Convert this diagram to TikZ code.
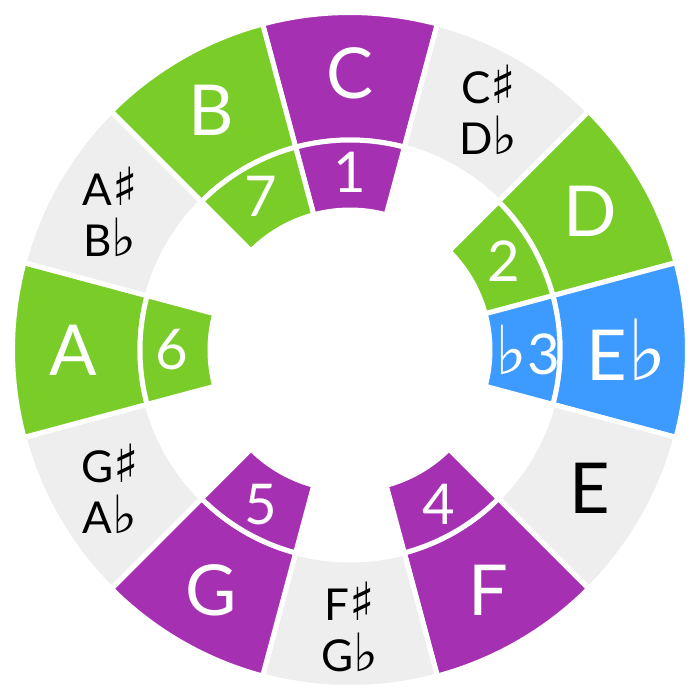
\documentclass[tikz,border=0pt]{standalone}
\usepackage{fontspec}
\setmainfont{Lato}
\newfontfamily\musfont{DejaVu Sans}
\usetikzlibrary{positioning}
\definecolor{purp}{RGB}{166,48,178}
\definecolor{grn}{RGB}{122,205,41}
\definecolor{blu}{RGB}{61,155,255}
\definecolor{pale}{RGB}{238,238,238}
\newcommand{\shp}{\scalebox{1.2}{\musfont ♯}}
\newcommand{\flt}{\scalebox{1.2}{\musfont ♭}}
\tikzset{
  sector/.style={draw=white, line width=0.05cm, line join=miter},
  noteLabel/.style={align=center, inner sep=0pt, font=\fontsize{20}{24}\selectfont},
  twoLabel/.style={align=center, inner sep=0pt, font=\fontsize{12.5}{14.6}\selectfont},
  degLabel/.style={align=center, inner sep=0pt, font=\fontsize{16}{19}\selectfont, text=white}
}

\begin{document}
\begin{tikzpicture}
    \useasboundingbox (-3.5,-3.5) rectangle (3.5,3.5);

    % outer ring: the twelve notes
    \foreach \ang/\col/\txt/\tcol/\sty [count=\i] in {
        90/purp/C/white/noteLabel,
        60/pale/{C\shp\\D\flt}/black/twoLabel,
        30/grn/D/white/noteLabel,
        0/blu/E\flt/white/noteLabel,
        -30/pale/E/black/noteLabel,
        -60/purp/F/white/noteLabel,
        -90/pale/{F\shp\\G\flt}/black/twoLabel,
        -120/purp/G/white/noteLabel,
        -150/pale/{G\shp\\A\flt}/black/twoLabel,
        180/grn/A/white/noteLabel,
        150/pale/{A\shp\\B\flt}/black/twoLabel,
        120/grn/B/white/noteLabel}
    {
      \fill[sector, fill=\col] (\ang-15:2.10) arc[start angle=\ang-15, end angle=\ang+15, radius=2.10]
        -- (\ang+15:3.375) arc[start angle=\ang+15, end angle=\ang-15, radius=3.375] -- cycle;
      \node[\sty, text=\tcol] (note\i) at (\ang:2.77) {\txt};
    }

    % inner ring: scale degrees
    \foreach \ang/\col/\txt [count=\i] in {
        90/purp/1, 30/grn/2, 0/blu/{\flt3}, -60/purp/4,
        -120/purp/5, 180/grn/6, 120/grn/7}
    {
      \fill[sector, fill=\col] (\ang-15:1.40) arc[start angle=\ang-15, end angle=\ang+15, radius=1.40]
        -- (\ang+15:2.10) arc[start angle=\ang+15, end angle=\ang-15, radius=2.10] -- cycle;
      \node[degLabel] (deg\i) at (\ang:1.78) {\txt};
    }

\end{tikzpicture}
\end{document}
